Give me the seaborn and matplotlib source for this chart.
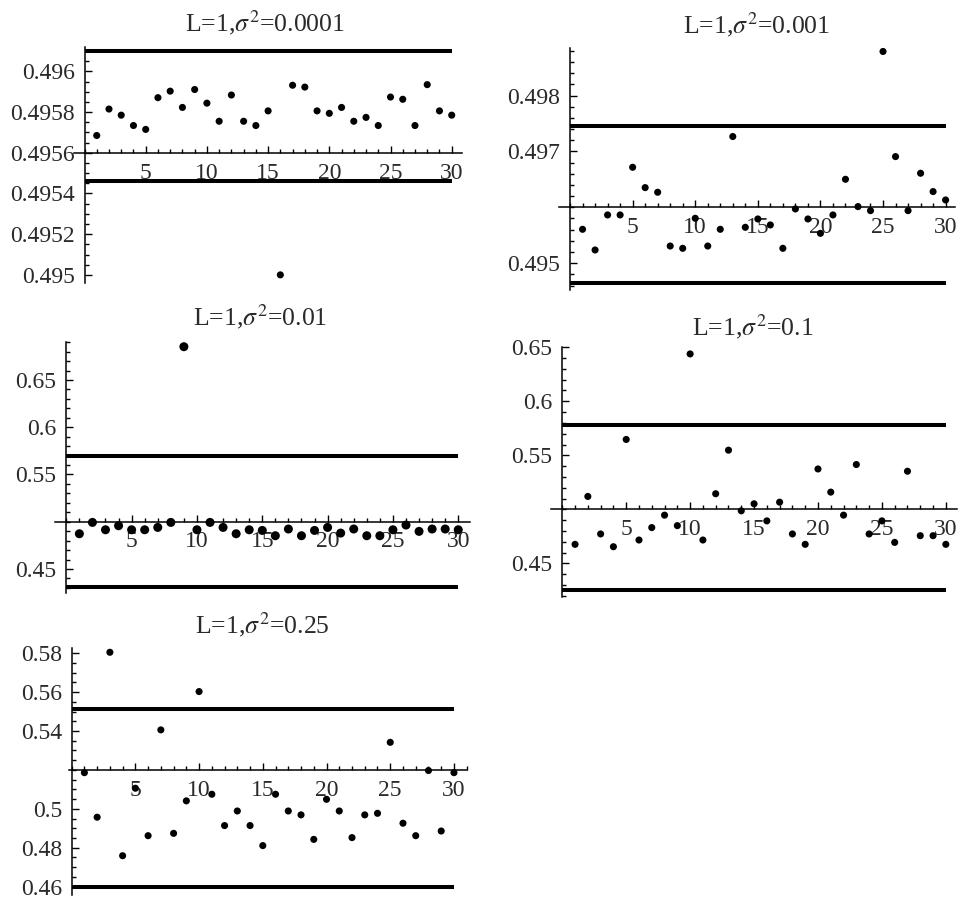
import matplotlib
matplotlib.use("Agg")
import matplotlib.pyplot as plt
import seaborn as sns
import pandas as pd
from matplotlib.ticker import MultipleLocator, FixedLocator

sns.set_style("ticks")
plt.rcParams["font.family"] = ["Liberation Serif", "DejaVu Serif"]
plt.rcParams["mathtext.fontset"] = "stix"

# ---------------- data ----------------
obs = list(range(1, 31))

vals_s0001 = [0.495685, 0.495815, 0.495785, 0.495734, 0.495715, 0.495871, 0.495903, 0.495823,
              0.495911, 0.495844, 0.495755, 0.495884, 0.495755, 0.495734, 0.495806, 0.495000,
              0.495932, 0.495923, 0.495806, 0.495794, 0.495823, 0.495755, 0.495774, 0.495734,
              0.495874, 0.495863, 0.495734, 0.495935, 0.495806, 0.495785]
vals_s001 = [0.495606, 0.495236, 0.495863, 0.495863, 0.496716, 0.496352, 0.496269, 0.495307,
             0.495266, 0.495803, 0.495307, 0.495606, 0.497266, 0.495642, 0.495791, 0.495684,
             0.495266, 0.495970, 0.495791, 0.495534, 0.495863, 0.496501, 0.496012, 0.495940,
             0.498788, 0.496907, 0.495940, 0.496609, 0.496281, 0.496131]
vals_s01 = [0.4873, 0.4993, 0.4915, 0.4958, 0.4915, 0.4915, 0.4940, 0.4993, 0.6852, 0.4915,
            0.4993, 0.4940, 0.4873, 0.4915, 0.4908, 0.4852, 0.4923, 0.4852, 0.4908, 0.4940,
            0.4880, 0.4923, 0.4852, 0.4852, 0.4915, 0.4965, 0.4898, 0.4923, 0.4923, 0.4915]
vals_s1 = [0.4677, 0.5120, 0.4773, 0.4655, 0.5647, 0.4717, 0.4832, 0.4947, 0.4850, 0.6438,
           0.4717, 0.5145, 0.5548, 0.4987, 0.5052, 0.4894, 0.5067, 0.4773, 0.4677, 0.5374,
           0.5160, 0.4947, 0.5415, 0.4773, 0.4894, 0.4695, 0.5353, 0.4757, 0.4757, 0.4677]
vals_s25 = [0.5186, 0.4957, 0.5805, 0.4759, 0.5106, 0.4862, 0.5406, 0.4874, 0.5041, 0.5603,
            0.5075, 0.4914, 0.4989, 0.4914, 0.4811, 0.5075, 0.4989, 0.4969, 0.4843, 0.5049,
            0.4989, 0.4852, 0.4969, 0.4977, 0.5342, 0.4926, 0.4862, 0.5197, 0.4886, 0.5186]

titles = ["L=1,$\\sigma^2$=0.0001", "L=1,$\\sigma^2$=0.001", "L=1,$\\sigma^2$=0.01",
          "L=1,$\\sigma^2$=0.1", "L=1,$\\sigma^2$=0.25"]
upper_limits = [0.496102, 0.497457, 0.5697, 0.5781, 0.5512]
lower_limits = [0.495460, 0.494639, 0.4310, 0.4252, 0.4597]
axis_cross = [0.4956, 0.496, 0.5, 0.5, 0.52]
limit_span = [0, 30]

ytick_values = [[0.495, 0.4952, 0.4954, 0.4956, 0.4958, 0.496],
                [0.495, 0.497, 0.498],
                [0.45, 0.55, 0.6, 0.65],
                [0.45, 0.55, 0.6, 0.65],
                [0.46, 0.48, 0.5, 0.54, 0.56, 0.58]]
ytick_labels = [["0.495", "0.4952", "0.4954", "0.4956", "0.4958", "0.496"],
                ["0.495", "0.497", "0.498"],
                ["0.45", "0.55", "0.6", "0.65"],
                ["0.45", "0.55", "0.6", "0.65"],
                ["0.46", "0.48", "0.5", "0.54", "0.56", "0.58"]]
xtick_values = [5, 10, 15, 20, 25, 30]
xtick_labels = ["5", "10", "15", "20", "25", "30"]

all_vals = [vals_s0001, vals_s001, vals_s01, vals_s1, vals_s25]

# ---------------- layout (pixels) ----------------
W, H = 965, 901
layout = [
    dict(px=(74.1, 461.5, 47, 283), xl=(-0.85, 30.8), yl=(0.49496, 0.49612), minor=0.00005, s=26),
    dict(px=(559.4, 955, 48, 290), xl=(-0.85, 30.75), yl=(0.49452, 0.49885), minor=0.0002, s=26),
    dict(px=(55.2, 470, 341.7, 593), xl=(-0.85, 30.9), yl=(0.4246, 0.6905), minor=0.01, s=42),
    dict(px=(551.4, 956.7, 347, 597), xl=(-0.85, 30.85), yl=(0.419, 0.6502), minor=0.01, s=26),
    dict(px=(69.1, 466.7, 648, 895), xl=(-0.2, 31.0), yl=(0.4557, 0.5827), minor=0.005, s=26),
]
title_pos = [(265, 23), (757, 25), (260, 317), (753, 327), (262, 625)]

fig = plt.figure(figsize=(W / 100, H / 100), dpi=100)
txt_color = "#2a2a2a"

for i in range(5):
    L = layout[i]
    l, r, t, b = L["px"]
    ax = fig.add_axes([l / W, 1 - b / H, (r - l) / W, (b - t) / H])
    ax.set_facecolor("none")
    df = pd.DataFrame({"obs": obs, "val": all_vals[i]})
    ax.hlines([upper_limits[i], lower_limits[i]], limit_span[0], limit_span[1],
              colors="black", linewidth=2.9, zorder=2)
    sns.scatterplot(data=df, x="obs", y="val", ax=ax, color="black", s=L["s"],
                    edgecolor="none", linewidth=0, zorder=3, clip_on=False, legend=False)
    ax.set_xlim(*L["xl"])
    ax.set_ylim(*L["yl"])
    ax.set_xlabel("")
    ax.set_ylabel("")
    for sp in ["top", "right"]:
        ax.spines[sp].set_visible(False)
    ax.spines["bottom"].set_position(("data", axis_cross[i]))
    ax.spines["left"].set_position(("data", 0))
    ax.spines["bottom"].set_linewidth(1.1)
    ax.spines["left"].set_linewidth(1.1)
    ax.spines["bottom"].set_color("black")
    ax.spines["left"].set_color("black")

    ax.xaxis.set_major_locator(FixedLocator(xtick_values))
    ax.set_xticklabels(xtick_labels)
    ax.xaxis.set_minor_locator(MultipleLocator(1))
    ax.yaxis.set_major_locator(FixedLocator(ytick_values[i]))
    ax.set_yticklabels(ytick_labels[i])
    ax.yaxis.set_minor_locator(MultipleLocator(L["minor"]))

    ax.tick_params(axis="both", which="both", direction="in", color="black",
                   labelcolor=txt_color, labelsize=17, width=1)
    ax.tick_params(axis="both", which="major", length=5)
    ax.tick_params(axis="both", which="minor", length=3)
    ax.tick_params(axis="x", pad=7)
    ax.tick_params(axis="y", pad=7)

    tx, ty = title_pos[i]
    fig.text(tx / W, 1 - ty / H, titles[i], ha="center", va="center",
             fontsize=18.5, color=txt_color)

fig.savefig("out.png", dpi=100)
